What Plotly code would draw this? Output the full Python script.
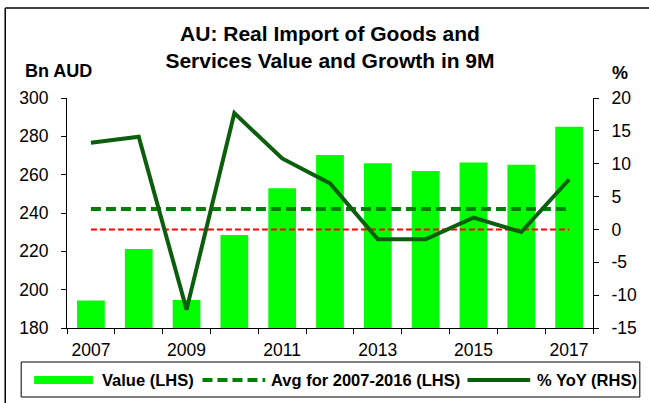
import plotly.graph_objects as go

# 9M real imports of goods and services, Australia
years = [2007, 2008, 2009, 2010, 2011, 2012, 2013, 2014, 2015, 2016, 2017]
value_bn_aud = [194.4, 221.2, 194.6, 228.5, 252.9, 270.3, 265.9, 261.9, 266.3, 265.2, 285.0]
yoy_pct = [13.2, 14.1, -12.2, 17.7, 10.8, 7.0, -1.5, -1.5, 1.8, -0.4, 7.6]
avg_2007_2016 = 242.1

x_tick_years = [2007, 2009, 2011, 2013, 2015, 2017]
left_ticks = [180, 200, 220, 240, 260, 280, 300]
right_ticks = [-15, -10, -5, 0, 5, 10, 15, 20]

FONT = "Liberation Sans, Arial, sans-serif"
W, H = 649, 403
L, R, T, B = 67, 54, 98, 75

BAR_GREEN = "#00FF00"
AVG_GREEN = "#008000"
YOY_GREEN = "#0B5E0B"


def px_x(x):
    return (x - L) / (W - L - R)


def px_y(y):
    return (H - B - y) / (H - T - B)


fig = go.Figure()

fig.add_trace(go.Bar(
    x=years, y=value_bn_aud,
    name="Value (LHS)",
    marker=dict(color=BAR_GREEN, line=dict(width=0)),
    width=0.58,
))

fig.add_trace(go.Scatter(
    x=[years[0], years[-1]], y=[avg_2007_2016, avg_2007_2016],
    mode="lines",
    name="Avg for 2007-2016 (LHS)",
    line=dict(color=AVG_GREEN, width=4, dash="10px,5px"),
))

# zero line of the right-hand axis
fig.add_trace(go.Scatter(
    x=[years[0], years[-1]], y=[0, 0],
    mode="lines", yaxis="y2",
    hoverinfo="skip",
    line=dict(color="#FF0000", width=2, dash="6px,3px"),
))

fig.add_trace(go.Scatter(
    x=years, y=yoy_pct,
    mode="lines", yaxis="y2",
    name="% YoY (RHS)",
    line=dict(color=YOY_GREEN, width=4),
))

axis_common = dict(
    showline=True, linecolor="black", linewidth=1,
    showgrid=False, zeroline=False,
    tickfont=dict(family=FONT, size=17.5, color="black"),
)

# legend drawn as a boxed row like the Excel original
legend_y = px_y(380)
legend_font = dict(family=FONT, size=16.5, color="black", weight="bold")
legend_items = [("Value (LHS)", 100), ("Avg for 2007-2016 (LHS)", 270), ("% YoY (RHS)", 537)]

shapes = [
    # outer frame (top and left edges show in the crop)
    dict(type="line", xref="paper", yref="paper",
         x0=px_x(5), x1=px_x(W + 5), y0=px_y(8), y1=px_y(8),
         line=dict(color="black", width=1.5)),
    dict(type="line", xref="paper", yref="paper",
         x0=px_x(5), x1=px_x(5), y0=px_y(8), y1=px_y(H + 5),
         line=dict(color="black", width=1.5)),
    # legend box and swatches
    dict(type="rect", xref="paper", yref="paper",
         x0=px_x(21), x1=px_x(642), y0=px_y(362), y1=px_y(397),
         line=dict(color="black", width=1), fillcolor="white"),
    dict(type="rect", xref="paper", yref="paper",
         x0=px_x(34), x1=px_x(93), y0=px_y(376), y1=px_y(384),
         line=dict(width=0), fillcolor=BAR_GREEN),
    dict(type="line", xref="paper", yref="paper",
         x0=px_x(203), x1=px_x(266), y0=legend_y, y1=legend_y,
         line=dict(color=AVG_GREEN, width=4, dash="10px,5px")),
    dict(type="line", xref="paper", yref="paper",
         x0=px_x(469), x1=px_x(532), y0=legend_y, y1=legend_y,
         line=dict(color=YOY_GREEN, width=4)),
]

annotations = [
    dict(text="Bn AUD", xref="paper", yref="paper",
         x=px_x(58), y=px_y(71), xanchor="center", yanchor="middle",
         showarrow=False,
         font=dict(family=FONT, size=18, color="black", weight="bold")),
    dict(text="%", xref="paper", yref="paper",
         x=px_x(622), y=px_y(73), xanchor="center", yanchor="middle",
         showarrow=False,
         font=dict(family=FONT, size=18, color="black", weight="bold")),
]
for label, left in legend_items:
    annotations.append(dict(
        text=label, xref="paper", yref="paper",
        x=px_x(left), y=legend_y, xanchor="left", yanchor="middle",
        showarrow=False, font=legend_font,
    ))

fig.update_layout(
    width=W, height=H,
    margin=dict(l=L, r=R, t=T, b=B),
    paper_bgcolor="white", plot_bgcolor="white",
    font=dict(family=FONT, color="black"),
    barmode="overlay",
    showlegend=False,
    title=dict(
        text="AU: Real Import of Goods and<br>Services Value and Growth in 9M",
        font=dict(family=FONT, size=21, color="black", weight="bold"),
        x=0.5, xref="paper", xanchor="center",
        y=1 - 40.5 / H, yref="container", yanchor="middle",
    ),
    xaxis=dict(
        range=[2006.5, 2017.5],
        tickmode="array", tickvals=x_tick_years,
        ticks="outside", ticklen=0,
        ticklabelstandoff=6,
        minor=dict(tick0=2006.5, dtick=1, ticks="outside", ticklen=5,
                   tickcolor="black", tickwidth=1),
        **axis_common,
    ),
    yaxis=dict(
        range=[180, 300],
        tickmode="array", tickvals=left_ticks,
        ticks="outside", ticklen=5, tickcolor="black",
        ticklabelstandoff=9,
        **axis_common,
    ),
    yaxis2=dict(
        range=[-15, 20],
        overlaying="y", side="right",
        tickmode="array", tickvals=right_ticks,
        ticktext=[str(v) for v in right_ticks],
        ticks="outside", ticklen=5, tickcolor="black",
        ticklabelstandoff=9,
        **axis_common,
    ),
    shapes=shapes,
    annotations=annotations,
)

fig.write_html(
    "out.html",
    config={"displayModeBar": False},
    post_script="document.body.style.margin = '0px';",
)
